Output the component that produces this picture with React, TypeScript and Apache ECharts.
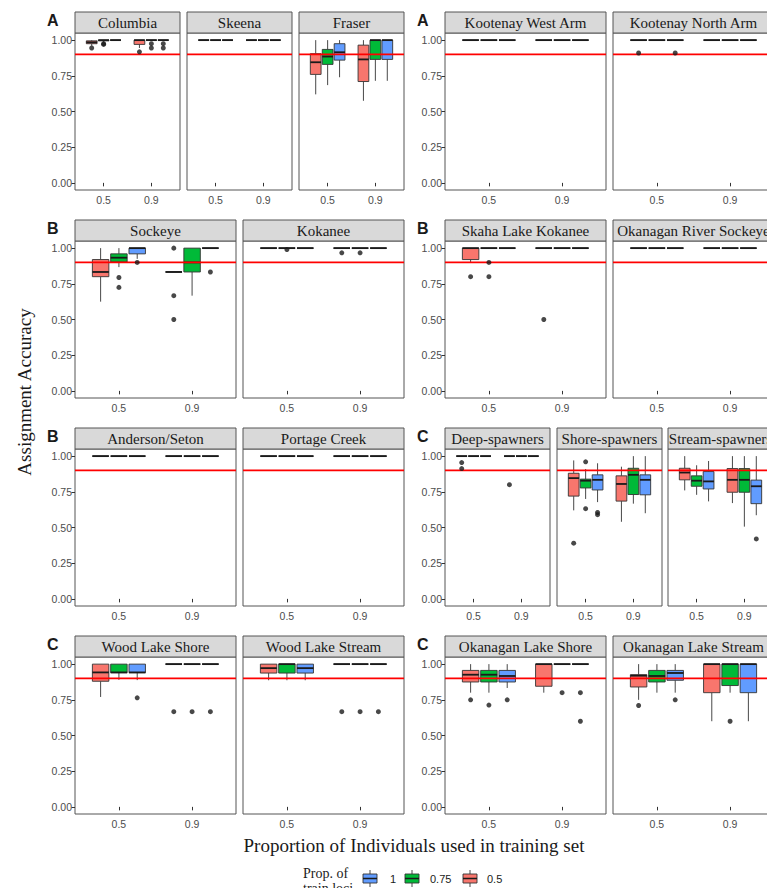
import { useEffect, useRef } from "react";
import * as echarts from "echarts";

// ---------- categories / ticks ----------
const propIndividuals = ["0.5", "0.9"];
const propLoci = ["0.5", "0.75", "1"];
const lociLegendOrder = ["1", "0.75", "0.5"];
const yTicks = [0, 0.25, 0.5, 0.75, 1];
const threshold = 0.9;

// ---------- data ----------
// box rows: [propIndividuals index, propLoci index, lower whisker, Q1, median, Q3, upper whisker]
// outlier rows: [propIndividuals index, propLoci index, value]
const columbia = [
  [0, 0, 0.96, 0.975, 0.985, 0.995, 1.0],
  [0, 1, 0.985, 0.995, 1.0, 1.0, 1.0],
  [0, 2, 1, 1, 1, 1, 1],
  [1, 0, 0.945, 0.97, 1.0, 1.0, 1.0],
  [1, 1, 1, 1, 1, 1, 1],
  [1, 2, 1, 1, 1, 1, 1],
];
const columbiaOut = [[0, 0, 0.945], [0, 1, 0.975], [0, 1, 0.97], [1, 0, 0.918], [1, 1, 0.975], [1, 1, 0.945], [1, 2, 0.975], [1, 2, 0.945]];

const skeena = [
  [0, 0, 1, 1, 1, 1, 1], [0, 1, 1, 1, 1, 1, 1], [0, 2, 1, 1, 1, 1, 1],
  [1, 0, 1, 1, 1, 1, 1], [1, 1, 1, 1, 1, 1, 1], [1, 2, 1, 1, 1, 1, 1],
];
const skeenaOut: number[][] = [];

const fraser = [
  [0, 0, 0.62, 0.76, 0.845, 0.905, 1.0],
  [0, 1, 0.685, 0.83, 0.885, 0.935, 1.0],
  [0, 2, 0.74, 0.86, 0.915, 0.975, 1.0],
  [1, 0, 0.575, 0.71, 0.865, 0.965, 1.0],
  [1, 1, 0.715, 0.865, 1.0, 1.0, 1.0],
  [1, 2, 0.715, 0.865, 1.0, 1.0, 1.0],
];
const fraserOut: number[][] = [];

const kootenayWest = [
  [0, 0, 1, 1, 1, 1, 1], [0, 1, 1, 1, 1, 1, 1], [0, 2, 1, 1, 1, 1, 1],
  [1, 0, 1, 1, 1, 1, 1], [1, 1, 1, 1, 1, 1, 1], [1, 2, 1, 1, 1, 1, 1],
];
const kootenayWestOut: number[][] = [];

const kootenayNorth = [
  [0, 0, 1, 1, 1, 1, 1], [0, 1, 1, 1, 1, 1, 1], [0, 2, 1, 1, 1, 1, 1],
  [1, 0, 1, 1, 1, 1, 1], [1, 1, 1, 1, 1, 1, 1], [1, 2, 1, 1, 1, 1, 1],
];
const kootenayNorthOut = [[0, 0, 0.91], [0, 2, 0.91]];

const sockeye = [
  [0, 0, 0.625, 0.8, 0.833, 0.92, 1.0],
  [0, 1, 0.867, 0.903, 0.933, 0.96, 1.0],
  [0, 2, 0.925, 0.96, 1.0, 1.0, 1.0],
  [1, 0, 0.833, 0.833, 0.833, 0.833, 0.833],
  [1, 1, 0.667, 0.833, 0.9, 1.0, 1.0],
  [1, 2, 1, 1, 1, 1, 1],
];
const sockeyeOut = [[0, 1, 0.794], [0, 1, 0.725], [0, 2, 0.9], [1, 0, 1.0], [1, 0, 0.667], [1, 0, 0.5], [1, 2, 0.833]];

const kokanee = [
  [0, 0, 1, 1, 1, 1, 1], [0, 1, 1, 1, 1, 1, 1], [0, 2, 1, 1, 1, 1, 1],
  [1, 0, 1, 1, 1, 1, 1], [1, 1, 1, 1, 1, 1, 1], [1, 2, 1, 1, 1, 1, 1],
];
const kokaneeOut = [[0, 1, 0.99], [1, 0, 0.967], [1, 1, 0.967]];

const skaha = [
  [0, 0, 0.9, 0.92, 1.0, 1.0, 1.0],
  [0, 1, 1, 1, 1, 1, 1], [0, 2, 1, 1, 1, 1, 1],
  [1, 0, 1, 1, 1, 1, 1], [1, 1, 1, 1, 1, 1, 1], [1, 2, 1, 1, 1, 1, 1],
];
const skahaOut = [[0, 0, 0.8], [0, 1, 0.9], [0, 1, 0.8], [1, 0, 0.5]];

const okRiverSockeye = [
  [0, 0, 1, 1, 1, 1, 1], [0, 1, 1, 1, 1, 1, 1], [0, 2, 1, 1, 1, 1, 1],
  [1, 0, 1, 1, 1, 1, 1], [1, 1, 1, 1, 1, 1, 1], [1, 2, 1, 1, 1, 1, 1],
];
const okRiverSockeyeOut: number[][] = [];

const andersonSeton = [
  [0, 0, 1, 1, 1, 1, 1], [0, 1, 1, 1, 1, 1, 1], [0, 2, 1, 1, 1, 1, 1],
  [1, 0, 1, 1, 1, 1, 1], [1, 1, 1, 1, 1, 1, 1], [1, 2, 1, 1, 1, 1, 1],
];
const andersonSetonOut: number[][] = [];

const portageCreek = [
  [0, 0, 1, 1, 1, 1, 1], [0, 1, 1, 1, 1, 1, 1], [0, 2, 1, 1, 1, 1, 1],
  [1, 0, 1, 1, 1, 1, 1], [1, 1, 1, 1, 1, 1, 1], [1, 2, 1, 1, 1, 1, 1],
];
const portageCreekOut: number[][] = [];

const deepSpawners = [
  [0, 0, 1, 1, 1, 1, 1], [0, 1, 1, 1, 1, 1, 1], [0, 2, 1, 1, 1, 1, 1],
  [1, 0, 1, 1, 1, 1, 1], [1, 1, 1, 1, 1, 1, 1], [1, 2, 1, 1, 1, 1, 1],
];
const deepSpawnersOut = [[0, 0, 0.955], [0, 0, 0.913], [1, 0, 0.8]];

const shoreSpawners = [
  [0, 0, 0.62, 0.72, 0.846, 0.88, 0.97],
  [0, 1, 0.7, 0.777, 0.828, 0.839, 0.91],
  [0, 2, 0.678, 0.763, 0.834, 0.869, 0.95],
  [1, 0, 0.54, 0.685, 0.805, 0.862, 0.926],
  [1, 1, 0.667, 0.731, 0.869, 0.915, 1.0],
  [1, 2, 0.6, 0.729, 0.834, 0.869, 1.0],
];
const shoreSpawnersOut = [[0, 0, 0.39], [0, 1, 0.96], [0, 1, 0.632], [0, 2, 0.605], [0, 2, 0.59]];

const streamSpawners = [
  [0, 0, 0.76, 0.834, 0.885, 0.915, 1.0],
  [0, 1, 0.729, 0.789, 0.828, 0.862, 0.936],
  [0, 2, 0.683, 0.77, 0.823, 0.892, 0.966],
  [1, 0, 0.671, 0.747, 0.834, 0.913, 1.0],
  [1, 1, 0.506, 0.747, 0.834, 0.913, 1.0],
  [1, 2, 0.586, 0.667, 0.789, 0.832, 1.0],
];
const streamSpawnersOut = [[1, 2, 0.42]];

const woodShore = [
  [0, 0, 0.77, 0.88, 0.942, 1.0, 1.0],
  [0, 1, 0.89, 0.94, 0.942, 1.0, 1.0],
  [0, 2, 0.888, 0.94, 0.942, 1.0, 1.0],
  [1, 0, 1, 1, 1, 1, 1], [1, 1, 1, 1, 1, 1, 1], [1, 2, 1, 1, 1, 1, 1],
];
const woodShoreOut = [[0, 2, 0.764], [1, 0, 0.667], [1, 1, 0.667], [1, 2, 0.667]];

const woodStream = [
  [0, 0, 0.887, 0.9375, 0.972, 1.0, 1.0],
  [0, 1, 0.887, 0.9375, 1.0, 1.0, 1.0],
  [0, 2, 0.887, 0.9375, 0.972, 1.0, 1.0],
  [1, 0, 1, 1, 1, 1, 1], [1, 1, 1, 1, 1, 1, 1], [1, 2, 1, 1, 1, 1, 1],
];
const woodStreamOut = [[1, 0, 0.667], [1, 1, 0.667], [1, 2, 0.667]];

const okLakeShore = [
  [0, 0, 0.8, 0.875, 0.926, 0.956, 1.0],
  [0, 1, 0.8, 0.875, 0.926, 0.956, 1.0],
  [0, 2, 0.833, 0.875, 0.917, 0.956, 1.0],
  [1, 0, 0.8, 0.845, 1.0, 1.0, 1.0],
  [1, 1, 1, 1, 1, 1, 1],
  [1, 2, 1, 1, 1, 1, 1],
];
const okLakeShoreOut = [[0, 0, 0.75], [0, 1, 0.713], [0, 2, 0.75], [1, 1, 0.8], [1, 2, 0.8], [1, 2, 0.6]];

const okLakeStream = [
  [0, 0, 0.75, 0.84, 0.919, 0.926, 1.0],
  [0, 1, 0.8, 0.875, 0.917, 0.956, 1.0],
  [0, 2, 0.8, 0.887, 0.938, 0.956, 1.0],
  [1, 0, 0.6, 0.8, 1.0, 1.0, 1.0],
  [1, 1, 0.8, 0.85, 1.0, 1.0, 1.0],
  [1, 2, 0.6, 0.8, 1.0, 1.0, 1.0],
];
const okLakeStreamOut = [[0, 0, 0.71], [0, 2, 0.75], [1, 1, 0.6]];

// ---------- layout & style ----------
const ROW_TOP = [33, 241, 449, 657];
const PLOT_H = 157;
const STRIP_H = 21;
const COLORS = ["#F8766D", "#00BA38", "#619CFF"]; // loci 0.5, 0.75, 1
const BOX_W = 0.225;
const DODGE = 0.25;
const SERIF = "Liberation Serif";
const SANS = "Liberation Sans";
const BORDER = "#555555";

type Panel = { title: string; stats: number[][]; out: number[][]; row: number; left: number; width: number; yLab?: boolean; tag?: string; tagX?: number };

const panels: Panel[] = [
  { title: "Columbia", stats: columbia, out: columbiaOut, row: 0, left: 75, width: 105, yLab: true, tag: "A", tagX: 47 },
  { title: "Skeena", stats: skeena, out: skeenaOut, row: 0, left: 187, width: 105 },
  { title: "Fraser", stats: fraser, out: fraserOut, row: 0, left: 299, width: 105 },
  { title: "Kootenay West Arm", stats: kootenayWest, out: kootenayWestOut, row: 0, left: 445, width: 161, yLab: true, tag: "A", tagX: 417 },
  { title: "Kootenay North Arm", stats: kootenayNorth, out: kootenayNorthOut, row: 0, left: 613, width: 161 },
  { title: "Sockeye", stats: sockeye, out: sockeyeOut, row: 1, left: 75, width: 161, yLab: true, tag: "B", tagX: 47 },
  { title: "Kokanee", stats: kokanee, out: kokaneeOut, row: 1, left: 243, width: 161 },
  { title: "Skaha Lake Kokanee", stats: skaha, out: skahaOut, row: 1, left: 445, width: 161, yLab: true, tag: "B", tagX: 417 },
  { title: "Okanagan River Sockeye", stats: okRiverSockeye, out: okRiverSockeyeOut, row: 1, left: 613, width: 161 },
  { title: "Anderson/Seton", stats: andersonSeton, out: andersonSetonOut, row: 2, left: 75, width: 161, yLab: true, tag: "B", tagX: 47 },
  { title: "Portage Creek", stats: portageCreek, out: portageCreekOut, row: 2, left: 243, width: 161 },
  { title: "Deep-spawners", stats: deepSpawners, out: deepSpawnersOut, row: 2, left: 445, width: 105, yLab: true, tag: "C", tagX: 417 },
  { title: "Shore-spawners", stats: shoreSpawners, out: shoreSpawnersOut, row: 2, left: 557, width: 105 },
  { title: "Stream-spawners", stats: streamSpawners, out: streamSpawnersOut, row: 2, left: 668, width: 105 },
  { title: "Wood Lake Shore", stats: woodShore, out: woodShoreOut, row: 3, left: 75, width: 161, yLab: true, tag: "C", tagX: 47 },
  { title: "Wood Lake Stream", stats: woodStream, out: woodStreamOut, row: 3, left: 243, width: 161 },
  { title: "Okanagan Lake Shore", stats: okLakeShore, out: okLakeShoreOut, row: 3, left: 445, width: 161, yLab: true, tag: "C", tagX: 417 },
  { title: "Okanagan Lake Stream", stats: okLakeStream, out: okLakeStreamOut, row: 3, left: 613, width: 161 },
];

const xPos = (ind: number, loci: number) => ind + 1 + (loci - 1) * DODGE;

function txt(x: number, y: number, text: string, size: number, family: string, extra: any = {}) {
  const { align = "center", vAlign = "middle", weight = "normal", rotation = 0, lineHeight } = extra;
  return {
    type: "text", x, y, rotation, silent: true,
    style: {
      text, fontSize: size, fontFamily: family, fontWeight: weight, fill: "#1a1a1a",
      textAlign: align, textVerticalAlign: vAlign, ...(lineHeight ? { lineHeight } : {}),
    },
  };
}

function buildOption() {
  const grid: any[] = [];
  const xAxis: any[] = [];
  const yAxis: any[] = [];
  const series: any[] = [];
  const graphic: any[] = [];

  panels.forEach((p, i) => {
    const top = ROW_TOP[p.row];
    grid.push({
      left: p.left, top, width: p.width, height: PLOT_H,
      show: true, borderColor: BORDER, borderWidth: 1, backgroundColor: "#fff",
      containLabel: false, outerBoundsMode: "none",
    });
    xAxis.push({
      type: "value", gridIndex: i, min: 0.4, max: 2.6,
      axisLine: { show: false }, splitLine: { show: false },
      axisTick: { show: true, customValues: [1, 2], length: 3.5, lineStyle: { color: "#333", width: 1 } },
      axisLabel: {
        show: true, customValues: [1, 2], margin: 4,
        formatter: (v: number) => propIndividuals[Math.round(v) - 1] ?? "",
        color: "#4d4d4d", fontSize: 10.5, fontFamily: SANS,
      },
    });
    yAxis.push({
      type: "value", gridIndex: i, min: -0.05, max: 1.05,
      axisLine: { show: false }, splitLine: { show: false },
      axisTick: { show: !!p.yLab, customValues: yTicks, length: 3.5, lineStyle: { color: "#333", width: 1 } },
      axisLabel: {
        show: !!p.yLab, customValues: yTicks, margin: 3,
        formatter: (v: number) => v.toFixed(2),
        color: "#4d4d4d", fontSize: 10.5, fontFamily: SANS,
      },
    });

    series.push({
      type: "custom", xAxisIndex: i, yAxisIndex: i, z: 2, silent: true,
      encode: { x: 0, y: [1, 2, 3, 4, 5] },
      data: p.stats.map((r) => [xPos(r[0], r[1]), r[2], r[3], r[4], r[5], r[6], r[1]]),
      renderItem: (_params: any, api: any) => {
        const x = api.value(0);
        const lo = api.value(1), q1 = api.value(2), med = api.value(3), q3 = api.value(4), hi = api.value(5);
        const c = COLORS[api.value(6)];
        const tl = api.coord([x - BOX_W / 2, q3]);
        const br = api.coord([x + BOX_W / 2, q1]);
        const pHi = api.coord([x, hi]);
        const pLo = api.coord([x, lo]);
        const pMed = api.coord([x, med]);
        const wStyle = { stroke: "#333", lineWidth: 0.9 };
        return {
          type: "group",
          children: [
            { type: "line", shape: { x1: pHi[0], y1: pHi[1], x2: pHi[0], y2: tl[1] }, style: wStyle },
            { type: "line", shape: { x1: pLo[0], y1: pLo[1], x2: pLo[0], y2: br[1] }, style: wStyle },
            { type: "rect", shape: { x: tl[0], y: tl[1], width: br[0] - tl[0], height: br[1] - tl[1] }, style: { fill: c, stroke: "#333", lineWidth: 0.9 } },
            { type: "line", shape: { x1: tl[0], y1: pMed[1], x2: br[0], y2: pMed[1] }, style: { stroke: "#1a1a1a", lineWidth: 1.8 } },
          ],
        };
      },
    });
    series.push({
      type: "line", xAxisIndex: i, yAxisIndex: i, z: 3, silent: true,
      data: [[0.4, threshold], [2.6, threshold]], showSymbol: false, symbol: "none",
      lineStyle: { color: "#FF0000", width: 1.6 },
    });
    series.push({
      type: "scatter", xAxisIndex: i, yAxisIndex: i, z: 4, silent: true,
      data: p.out.map((o) => [xPos(o[0], o[1]), o[2]]),
      symbolSize: 5, itemStyle: { color: "#1a1a1a" },
    });

    // strip
    graphic.push({
      type: "rect", shape: { x: p.left, y: top - STRIP_H, width: p.width, height: STRIP_H },
      style: { fill: "#D9D9D9", stroke: BORDER, lineWidth: 1 }, silent: true,
    });
    graphic.push(txt(p.left + p.width / 2, top - STRIP_H / 2 + 0.5, p.title, 15, SERIF));
    if (p.tag) {
      graphic.push(txt(p.tagX as number, top - STRIP_H / 2 - 2, p.tag, 16, SANS, { align: "left", weight: "bold" }));
    }
  });

  // axis titles
  graphic.push(txt(24, 392, "Assignment Accuracy", 19, SERIF, { rotation: Math.PI / 2 }));
  graphic.push(txt(414, 845, "Proportion of Individuals used in training set", 19, SERIF));

  // legend
  graphic.push(txt(303, 866, "Prop. of\ntrain loci", 14, SERIF, { align: "left", vAlign: "top", lineHeight: 15 }));
  const keyX = [363, 405, 463];
  const labelX = [390, 430, 487];
  lociLegendOrder.forEach((lab, k) => {
    const li = propLoci.indexOf(lab);
    const kx = keyX[k];
    graphic.push({ type: "line", shape: { x1: kx + 7, y1: 870, x2: kx + 7, y2: 874 }, style: { stroke: "#333", lineWidth: 0.9 }, silent: true });
    graphic.push({ type: "line", shape: { x1: kx + 7, y1: 883, x2: kx + 7, y2: 887 }, style: { stroke: "#333", lineWidth: 0.9 }, silent: true });
    graphic.push({ type: "rect", shape: { x: kx, y: 874, width: 14, height: 9 }, style: { fill: COLORS[li], stroke: "#333", lineWidth: 0.9 }, silent: true });
    graphic.push({ type: "line", shape: { x1: kx, y1: 878.5, x2: kx + 14, y2: 878.5 }, style: { stroke: "#1a1a1a", lineWidth: 1.5 }, silent: true });
    graphic.push(txt(labelX[k], 878.5, lab, 11, SANS, { align: "left" }));
  });

  return { animation: false, backgroundColor: "#fff", grid, xAxis, yAxis, series, graphic };
}

export default function App() {
  const ref = useRef<HTMLDivElement>(null);
  useEffect(() => {
    document.body.style.margin = "0";
    if (!ref.current) return;
    const chart = echarts.init(ref.current, null, { renderer: "svg" });
    chart.setOption(buildOption() as any);
    return () => chart.dispose();
  }, []);
  return <div ref={ref} style={{ width: 767, height: 888, overflow: "hidden" }} />;
}
